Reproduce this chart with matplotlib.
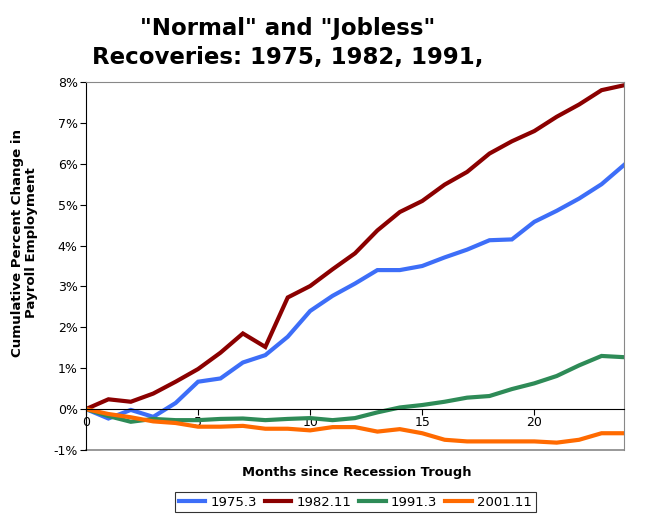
import matplotlib
matplotlib.use("Agg")
import matplotlib.pyplot as plt
from matplotlib.ticker import FuncFormatter

# Months since trough
months = list(range(25))

# Cumulative percent change in payroll employment
r1975 = [0.00, -0.23, -0.02, -0.19, 0.15, 0.67, 0.75, 1.14, 1.32, 1.77, 2.40, 2.77, 3.07,
         3.40, 3.40, 3.50, 3.71, 3.90, 4.13, 4.15, 4.58, 4.85, 5.15, 5.50, 5.97]
r1982 = [0.00, 0.24, 0.18, 0.38, 0.67, 0.98, 1.38, 1.85, 1.52, 2.73, 3.01, 3.42, 3.81,
         4.37, 4.82, 5.09, 5.49, 5.80, 6.25, 6.55, 6.80, 7.15, 7.45, 7.80, 7.92]
r1991 = [0.00, -0.17, -0.31, -0.24, -0.27, -0.27, -0.24, -0.23, -0.27, -0.24, -0.22, -0.27, -0.22,
         -0.08, 0.04, 0.10, 0.18, 0.28, 0.32, 0.49, 0.63, 0.81, 1.07, 1.30, 1.27]
r2001 = [0.00, -0.12, -0.20, -0.30, -0.34, -0.43, -0.43, -0.41, -0.48, -0.48, -0.52, -0.44, -0.44,
         -0.55, -0.49, -0.59, -0.75, -0.79, -0.79, -0.79, -0.79, -0.82, -0.75, -0.59, -0.59]

series = [("1975.3", r1975, "#3d6ef8"),
          ("1982.11", r1982, "#8b0000"),
          ("1991.3", r1991, "#2e8b57"),
          ("2001.11", r2001, "#ff6a00")]

fig = plt.figure(figsize=(6.46, 5.17), dpi=100)
ax = fig.add_axes([0.1331, 0.1296, 0.8328, 0.7118])

for name, vals, col in series:
    ax.plot(months, vals, color=col, lw=3, label=name, solid_joinstyle="miter")

ax.set_xlim(0, 24)
ax.set_ylim(-1, 8)
ax.set_xticks([0, 5, 10, 15, 20])
ax.set_yticks(range(-1, 9))
ax.yaxis.set_major_formatter(FuncFormatter(lambda v, p: "%d%%" % v))

# x axis runs through 0%
ax.spines["bottom"].set_position(("data", 0))
ax.spines["bottom"].set_color("black")
ax.spines["left"].set_color("black")
ax.spines["top"].set_color("#888888")
ax.spines["right"].set_color("#888888")
ax.plot([0, 24], [-1, -1], color="#888888", lw=1.2, clip_on=False, zorder=0)
ax.tick_params(axis="both", labelsize=9, length=4, direction="out", pad=2)
ax.tick_params(axis="x", pad=1)

fig.text(0.446, 0.945, '"Normal" and "Jobless"', ha="center", va="center",
         fontsize=16.5, fontweight="bold")
fig.text(0.446, 0.888, "Recoveries: 1975, 1982, 1991,", ha="center", va="center",
         fontsize=16.5, fontweight="bold")

fig.text(0.038, 0.53, "Cumulative Percent Change in\nPayroll Employment", rotation=90,
         ha="center", va="center", fontsize=9.6, fontweight="bold", linespacing=1.1)
fig.text(0.553, 0.087, "Months since Recession Trough", ha="center", va="center",
         fontsize=9.4, fontweight="bold")

leg = fig.legend(loc="center", bbox_to_anchor=(0.55, 0.029), ncol=4, fontsize=9.5,
                 frameon=True, fancybox=False, edgecolor="black", handlelength=2.0,
                 handletextpad=0.4, columnspacing=0.6, borderpad=0.3)
leg.get_frame().set_linewidth(0.8)

fig.savefig("out.png", dpi=100)
